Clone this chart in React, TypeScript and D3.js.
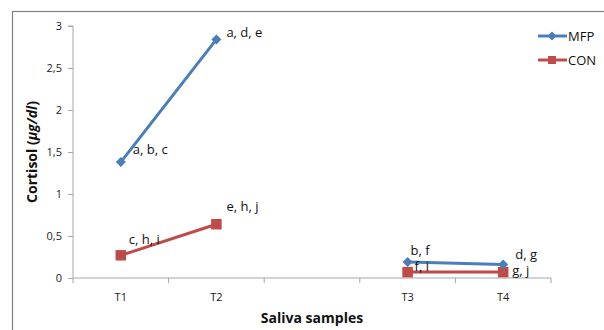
import * as d3 from 'd3';
import { useEffect, useRef } from 'react';

const categories = ['T1', 'T2', '', 'T3', 'T4'];
const mfpValues: (number | null)[] = [1.38, 2.84, null, 0.19, 0.16];
const conValues: (number | null)[] = [0.27, 0.64, null, 0.07, 0.07];
const mfpLabels = ['a, b, c', 'a, d, e', '', 'b, f', 'd, g'];
const conLabels = ['c, h, i', 'e, h, j', '', 'f, i', 'g, j'];
const yTicks = [0, 0.5, 1, 1.5, 2, 2.5, 3];

const WIDTH = 604;
const HEIGHT = 330;
const BLUE = '#4a7ebb';
const RED = '#be4b48';
const FONT = '"Open Sans", "Noto Sans", sans-serif';

export default function App() {
    const ref = useRef<SVGSVGElement>(null);

    useEffect(() => {
        document.body.style.margin = '0';
        const svg = d3.select(ref.current!);
        svg.selectAll('*').remove();

        const x = d3.scaleBand<number>().domain(d3.range(categories.length)).range([73, 551]);
        const y = d3.scaleLinear().domain([0, 3]).range([278, 26]);
        const cx = (i: number) => x(i)! + x.bandwidth() / 2;

        // outer frame
        svg.append('rect')
            .attr('x', 12.5).attr('y', 11.5)
            .attr('width', 620).attr('height', 340)
            .attr('fill', 'none').attr('stroke', '#808080').attr('stroke-width', 1.2);

        // y axis
        const yAxis = svg.append('g').attr('transform', 'translate(73,0)')
            .call(d3.axisLeft(y).tickValues(yTicks).tickSize(5).tickPadding(6)
                .tickFormat((d) => d3.format('')(d as number).replace('.', ',')));
        yAxis.select('.domain').attr('stroke', '#a6a6a6').attr('d', `M-5,${y(3)}H0V${y(0)}`);
        yAxis.selectAll('.tick line').attr('stroke', '#a6a6a6');
        yAxis.selectAll('.tick text').attr('font-family', FONT).attr('font-size', 11).attr('fill', '#222');

        // x axis
        const xAxis = svg.append('g').attr('transform', `translate(0,${y(0)})`);
        xAxis.append('line').attr('x1', 73).attr('x2', 551).attr('stroke', '#a6a6a6');
        const bounds = d3.range(categories.length + 1).map((i) => 73 + i * x.step());
        xAxis.selectAll('line.tk').data(bounds).join('line').attr('class', 'tk')
            .attr('x1', (d) => d).attr('x2', (d) => d).attr('y1', 0).attr('y2', 5).attr('stroke', '#a6a6a6');
        xAxis.selectAll('text').data(categories).join('text')
            .attr('x', (_, i) => cx(i)).attr('y', 23)
            .attr('text-anchor', 'middle').attr('font-family', FONT).attr('font-size', 11).attr('fill', '#222')
            .text((d) => d);

        // titles
        svg.append('text').attr('x', 312).attr('y', 323).attr('text-anchor', 'middle')
            .attr('font-family', FONT).attr('font-size', 14).attr('font-weight', 'bold').attr('fill', '#111')
            .text('Saliva samples');
        const yt = svg.append('text').attr('transform', 'translate(37,152) rotate(-90)').attr('text-anchor', 'middle')
            .attr('font-family', FONT).attr('font-size', 14).attr('font-weight', 'bold').attr('fill', '#111');
        yt.append('tspan').text('Cortisol (');
        yt.append('tspan').attr('font-style', 'italic').text('µg/dl');
        yt.append('tspan').text(')');

        const line = d3.line<number | null>()
            .defined((d) => d !== null)
            .x((_, i) => cx(i))
            .y((d) => y(d as number));

        const series = [
            { values: conValues, labels: conLabels, color: RED, rot: 0, size: 110 },
            { values: mfpValues, labels: mfpLabels, color: BLUE, rot: 45, size: 50 },
        ];
        const labelOffsets: Record<string, [number, number][]> = {
            [BLUE]: [[12, -8], [10, -2], [0, 0], [3, -7], [12, -6]],
            [RED]: [[8, -11], [10, -13], [0, 0], [7, -1], [9, 3]],
        };

        series.forEach((s) => {
            svg.append('path').attr('d', line(s.values)!).attr('fill', 'none')
                .attr('stroke', s.color).attr('stroke-width', 3);
            const pts = s.values.map((v, i) => ({ v, i })).filter((p) => p.v !== null);
            svg.selectAll(null).data(pts).join('path')
                .attr('transform', (p) => `translate(${cx(p.i)},${y(p.v as number)}) rotate(${s.rot})`)
                .attr('d', d3.symbol().type(d3.symbolSquare).size(s.size)())
                .attr('fill', s.color);
        });
        series.forEach((s) => {
            const pts = s.values.map((v, i) => ({ v, i })).filter((p) => p.v !== null);
            svg.selectAll(null).data(pts).join('text')
                .attr('x', (p) => cx(p.i) + labelOffsets[s.color][p.i][0])
                .attr('y', (p) => y(p.v as number) + labelOffsets[s.color][p.i][1])
                .attr('font-family', FONT).attr('font-size', 13).attr('fill', '#111')
                .text((p) => s.labels[p.i]);
        });

        // legend
        const legend = [
            { name: 'MFP', color: BLUE, rot: 45, size: 40 },
            { name: 'CON', color: RED, rot: 0, size: 64 },
        ];
        legend.forEach((l, i) => {
            const ly = 36 + i * 24;
            svg.append('line').attr('x1', 538).attr('x2', 567).attr('y1', ly).attr('y2', ly)
                .attr('stroke', l.color).attr('stroke-width', 3);
            svg.append('path').attr('transform', `translate(552,${ly}) rotate(${l.rot})`)
                .attr('d', d3.symbol().type(d3.symbolSquare).size(l.size)()).attr('fill', l.color);
            svg.append('text').attr('x', 568).attr('y', ly + 4.5)
                .attr('font-family', FONT).attr('font-size', 13).attr('fill', '#111').text(l.name);
        });
    }, []);

    return <svg ref={ref} width={WIDTH} height={HEIGHT} style={{ display: 'block', background: '#fff' }} />;
}
